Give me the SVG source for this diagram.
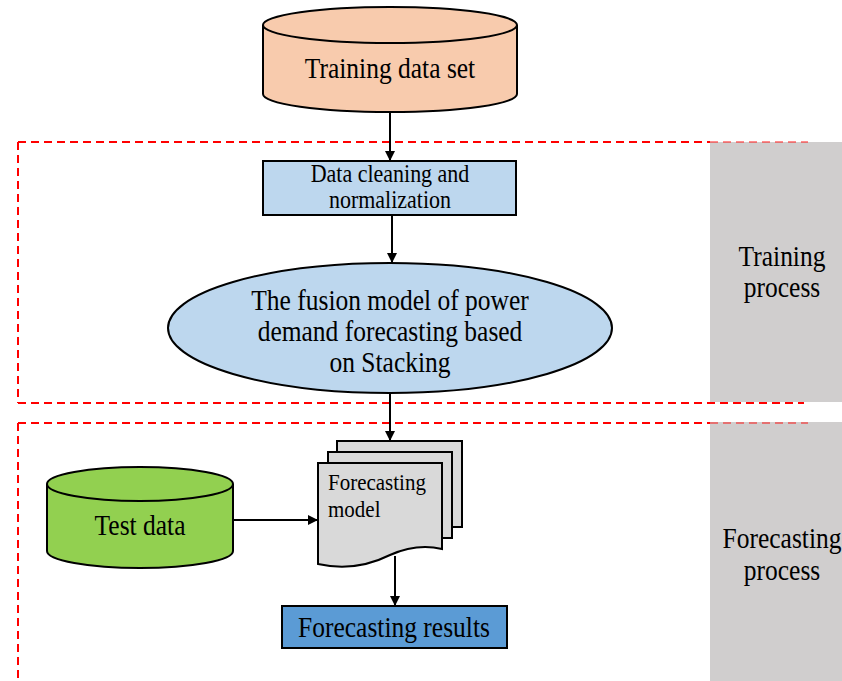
<svg xmlns="http://www.w3.org/2000/svg" width="842" height="681" viewBox="0 0 842 681">
  <style>
    .t { font-family: "Liberation Serif", "Times New Roman", serif; fill: #000; }
    .big { font-size: 25.5px; }
    .mid { font-size: 22px; }
    .sm { font-size: 21px; }
    .shape { stroke: #000; stroke-width: 2; }
    .dash { stroke: #ff0000; stroke-width: 2; stroke-dasharray: 8 5; fill: none; }
    .edge { stroke: #000; stroke-width: 2; fill: none; marker-end: url(#arr); }
  </style>
  <defs>
    <marker id="arr" viewBox="0 0 10 10" refX="10" refY="5" markerWidth="5" markerHeight="5" orient="auto" markerUnits="strokeWidth">
      <path d="M0,0 L10,5 L0,10 Z" fill="#000"/>
    </marker>
  </defs>
  <rect width="842" height="681" fill="#fff"/>

  <!-- stage panels -->
  <g id="panel-training">
    <rect x="710" y="142" width="132" height="260" fill="#d0cece"/>
    <text class="t big" text-anchor="middle" transform="translate(782,266) scale(1,1.12)">Training</text>
    <text class="t big" text-anchor="middle" transform="translate(782,297) scale(1,1.12)">process</text>
  </g>
  <g id="panel-forecasting">
    <rect x="710" y="422" width="132" height="259" fill="#d0cece"/>
    <text class="t big" text-anchor="middle" transform="translate(782,548) scale(1,1.12)">Forecasting</text>
    <text class="t big" text-anchor="middle" transform="translate(782,580) scale(1,1.12)">process</text>
  </g>

  <!-- dashed stage frames -->
  <g id="frames">
    <path class="dash" d="M18,142 H710 M18,142 V403 M18,403 H804"/>
    <path class="dash" d="M710,142 H808" opacity="0.45"/>
    <path class="dash" d="M18,423 H710 M18,423 V681"/>
    <path class="dash" d="M710,423 H808" opacity="0.45"/>
  </g>

  <g id="training-data">
    <path class="shape" fill="#f8cbad" d="M263,25 V94 A127,18 0 0 0 517,94 V25 A127,18 0 0 0 263,25 Z"/>
    <path class="shape" fill="none" d="M263,25 A127,18 0 0 0 517,25"/>
    <text class="t big" text-anchor="middle" transform="translate(390,78) scale(1,1.12)">Training data set</text>
  </g>

  <g id="cleaning">
    <rect class="shape" x="263" y="161" width="253" height="54" fill="#bdd7ee"/>
    <text class="t mid" text-anchor="middle" transform="translate(390,182) scale(1,1.1)">Data cleaning and</text>
    <text class="t mid" text-anchor="middle" transform="translate(390,208) scale(1,1.1)">normalization</text>
  </g>

  <g id="fusion-model">
    <ellipse class="shape" cx="390" cy="328" rx="222" ry="65" fill="#bdd7ee"/>
    <text class="t big" text-anchor="middle" transform="translate(390,310) scale(1,1.12)">The fusion model of power</text>
    <text class="t big" text-anchor="middle" transform="translate(390,341) scale(1,1.12)">demand forecasting based</text>
    <text class="t big" text-anchor="middle" transform="translate(390,372) scale(1,1.12)">on Stacking</text>
  </g>

  <g id="test-data">
    <path class="shape" fill="#92d050" d="M47,484 V551 A93,17 0 0 0 233,551 V484 A93,17 0 0 0 47,484 Z"/>
    <path class="shape" fill="none" d="M47,484 A93,17 0 0 0 233,484"/>
    <text class="t big" text-anchor="middle" transform="translate(140,535) scale(1,1.12)">Test data</text>
  </g>

  <g id="forecasting-model">
    <rect class="shape" x="337" y="441" width="125" height="86" fill="#d9d9d9"/>
    <rect class="shape" x="328" y="452" width="124" height="86" fill="#d9d9d9"/>
    <path class="shape" fill="#d9d9d9" d="M318,463 H442 V549 C425,545 408,547 390,555 C368,566 345,570 318,564 Z"/>
    <text class="t sm" transform="translate(328,490) scale(1,1.1)">Forecasting</text>
    <text class="t sm" transform="translate(328,517) scale(1,1.1)">model</text>
  </g>

  <g id="results">
    <rect class="shape" x="282" y="606" width="225" height="42" fill="#5b9bd5"/>
    <text class="t big" text-anchor="middle" transform="translate(394,637) scale(1,1.12)">Forecasting results</text>
  </g>

  <g id="connectors">
    <line class="edge" x1="390" y1="112" x2="390" y2="161"/>
    <line class="edge" x1="392" y1="215" x2="392" y2="263"/>
    <line class="edge" x1="390" y1="393" x2="390" y2="441"/>
    <line class="edge" x1="233" y1="520" x2="318" y2="520"/>
    <line class="edge" x1="395" y1="556" x2="395" y2="606"/>
  </g>
</svg>
